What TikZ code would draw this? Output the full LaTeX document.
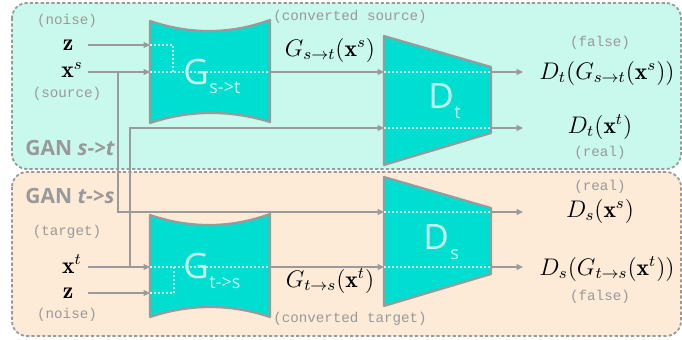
\documentclass[tikz,border=0pt]{standalone}
\usepackage{amsmath,amssymb}
\usepackage{fontspec}
\setmonofont{Liberation Mono}
\newfontfamily\netfont{Open Sans}
\usetikzlibrary{arrows.meta,positioning,calc}

\definecolor{mintbg}{HTML}{C9F8EC}
\definecolor{peachbg}{HTML}{FDEBD8}
\definecolor{netfill}{HTML}{00DDD1}
\definecolor{netline}{HTML}{9A9A9A}
\definecolor{nettext}{HTML}{C8FBF0}
\definecolor{greytext}{HTML}{999999}

\tikzset{
  panel/.style={draw=netline,dash pattern=on 1.6pt off 1.1pt,line width=0.9pt,rounded corners=7.5pt},
  net/.style={fill=netfill,draw=netline,line width=1.1pt,line join=round},
  guide/.style={draw=nettext,dash pattern=on 1pt off 1pt,line width=0.6pt},
  flow/.style={draw=netline,line width=0.6pt,-{Triangle[length=3.2pt,width=3pt]}},
  note/.style={text=greytext,font=\ttfamily\fontsize{7.1}{8}\selectfont,inner sep=0pt},
  mathlbl/.style={font=\fontsize{11.8}{13}\selectfont,inner sep=0pt},
  netname/.style={text=nettext,font=\netfont\fontsize{17.5}{18}\selectfont,inner sep=0pt,anchor=base west},
  netsub/.style={text=nettext,font=\netfont\fontsize{9}{10}\selectfont,inner sep=0pt,anchor=base west},
  ganlbl/.style={text=greytext,font=\netfont\bfseries\fontsize{10.5}{12}\selectfont,inner sep=0pt,anchor=base west},
}

\begin{document}
\begin{tikzpicture}[x=0.5pt,y=-0.5pt]
\useasboundingbox (0,0) rectangle (682,339);

% panels
\draw[panel,fill=mintbg] (12,3) rectangle (681,169);
\draw[panel,fill=peachbg] (12,172) rectangle (681,336);
\node[ganlbl] (gan-st) at (25,155) {GAN \textit{s->t}};
\node[ganlbl] (gan-ts) at (25,203) {GAN \textit{t->s}};

% networks
\draw[net] (150,21) .. controls (190,34.5) and (230,34.5) .. (270,20)
  -- (270,122) .. controls (230,109.8) and (190,109.8) .. (150,123) -- cycle;
\draw[net] (150,215) .. controls (190,228.5) and (230,228.5) .. (270,214)
  -- (270,317) .. controls (230,303.7) and (190,303.7) .. (150,317) -- cycle;
\draw[net] (384,36) -- (491,67) -- (491,133) -- (384,165) -- cycle;
\draw[net] (384,177) -- (491,208) -- (491,274) -- (384,306) -- cycle;

% ports
\coordinate (gst-z) at (150,45);
\coordinate (gst-x) at (150,72);
\coordinate (gst-out) at (270,72);
\coordinate (gts-x) at (150,267);
\coordinate (gts-z) at (150,293);
\coordinate (gts-out) at (270,267);
\coordinate (dt-in1) at (384,72);
\coordinate (dt-in2) at (384,128);
\coordinate (dt-out1) at (491,72);
\coordinate (dt-out2) at (491,128);
\coordinate (ds-in1) at (384,212);
\coordinate (ds-in2) at (384,267);
\coordinate (ds-out1) at (491,212);
\coordinate (ds-out2) at (491,267);

% dotted paths through the nets
\draw[guide] (gst-z) -| (173,72);
\draw[guide] (gst-x) -- (gst-out);
\draw[guide] (gts-z) -| (174,267);
\draw[guide] (gts-x) -- (gts-out);
\draw[guide] (dt-in1) -- (dt-out1);
\draw[guide] (dt-in2) -- (dt-out2);
\draw[guide] (ds-in1) -- (ds-out1);
\draw[guide] (ds-in2) -- (ds-out2);

\node[netname] (gst-name) at (183,84) {G};
\node[netsub] at (209,93) {s->t};
\node[netname] (gts-name) at (183,278) {G};
\node[netsub] at (209,288) {t->s};
\node[netname] (dt-name) at (428,108) {D};
\node[netsub] at (454,118) {t};
\node[netname] (ds-name) at (423,249) {D};
\node[netsub] at (450,259) {s};

% inputs
\node[note] (noise-top) at (67,21) {(noise)};
\node[mathlbl] (z-top) at (68,45) {$\mathbf{z}$};
\node[mathlbl] (xs) at (72,70) {$\mathbf{x}^s$};
\node[note] (source) at (67,94) {(source)};
\node[note] (target) at (67,232) {(target)};
\node[mathlbl] (xt) at (72,264) {$\mathbf{x}^t$};
\node[mathlbl] (z-bot) at (68,293) {$\mathbf{z}$};
\node[note] (noise-bot) at (67,315) {(noise)};

\coordinate (z-top-end) at (88,45);
\coordinate (xs-end) at (88,72);
\coordinate (xt-end) at (88,267);
\coordinate (z-bot-end) at (88,293);

\draw[flow] (z-top-end) -- (gst-z);
\draw[flow] (xs-end) -- (gst-x);
\draw[flow] (xt-end) -- (gts-x);
\draw[flow] (z-bot-end) -- (gts-z);
\draw[flow] (118,72) |- (ds-in1);
\draw[flow] (130,267) |- (dt-in2);
\draw[flow] (gst-out) -- (dt-in1);
\draw[flow] (gts-out) -- (ds-in2);

% converted samples
\node[note] (conv-src) at (350,17) {(converted source)};
\node[mathlbl] (gst-lbl) at (330,50) {$G_{s\to t}(\mathbf{x}^s)$};
\node[mathlbl] (gts-lbl) at (330,281) {$G_{t\to s}(\mathbf{x}^t)$};
\node[note] (conv-tgt) at (350,319) {(converted target)};

% outputs
\coordinate (dt-end1) at (523,72);
\coordinate (dt-end2) at (523,128);
\coordinate (ds-end1) at (523,212);
\coordinate (ds-end2) at (523,267);
\draw[flow] (dt-out1) -- (dt-end1);
\draw[flow] (dt-out2) -- (dt-end2);
\draw[flow] (ds-out1) -- (ds-end1);
\draw[flow] (ds-out2) -- (ds-end2);

\node[note] (false-t) at (600,43) {(false)};
\node[mathlbl] (dt-fake) at (607,73) {$D_t(G_{s\to t}(\mathbf{x}^s))$};
\node[mathlbl] (dt-real) at (600,127) {$D_t(\mathbf{x}^t)$};
\node[note] (real-t) at (600,153) {(real)};
\node[note] (real-s) at (600,187) {(real)};
\node[mathlbl] (ds-real) at (600,211) {$D_s(\mathbf{x}^s)$};
\node[mathlbl] (ds-fake) at (607,269) {$D_s(G_{t\to s}(\mathbf{x}^t))$};
\node[note] (false-s) at (600,297) {(false)};
\end{tikzpicture}
\end{document}
